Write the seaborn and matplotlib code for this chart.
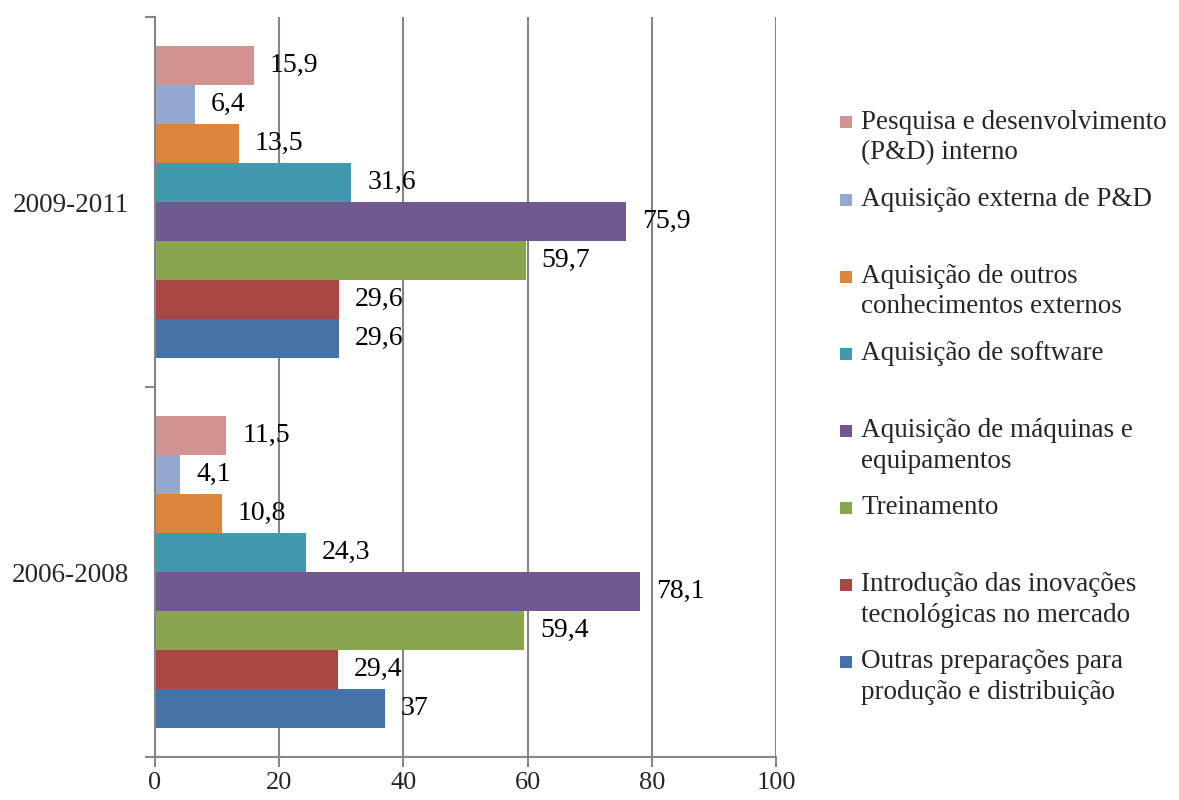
import matplotlib
matplotlib.use("Agg")
import matplotlib.pyplot as plt
from matplotlib.legend_handler import HandlerPatch
from matplotlib.patches import Rectangle
from matplotlib.ticker import FixedLocator
import numpy as np
import pandas as pd
import seaborn as sns

# Períodos (de cima para baixo no gráfico)
periodos = ["2009-2011", "2006-2008"]

# Atividades inovativas, na ordem das barras dentro de cada grupo (de cima para baixo)
atividades = [
    "Pesquisa e desenvolvimento\n(P&D) interno",
    "Aquisição externa de P&D",
    "Aquisição de outros\nconhecimentos externos",
    "Aquisição de software",
    "Aquisição de máquinas e\nequipamentos",
    "Treinamento",
    "Introdução das inovações\ntecnológicas no mercado",
    "Outras preparações para\nprodução e distribuição",
]

# Percentuais por atividade
valores_2009_2011 = [15.9, 6.4, 13.5, 31.6, 75.9, 59.7, 29.6, 29.6]
valores_2006_2008 = [11.5, 4.1, 10.8, 24.3, 78.1, 59.4, 29.4, 37.0]

cores = ["#D19392", "#93A9CF", "#DB843D", "#4198AF",
         "#71588F", "#89A54E", "#AA4643", "#4572A7"]

xticks = [0, 20, 40, 60, 80, 100]

df = pd.DataFrame({
    "periodo": np.repeat(periodos, len(atividades)),
    "atividade": atividades * len(periodos),
    "valor": valores_2009_2011 + valores_2006_2008,
})

sns.set_theme(style="white")
plt.rcParams["font.family"] = ["Liberation Serif", "DejaVu Serif"]

cinza = "#868686"
fig = plt.figure(figsize=(11.79, 8), dpi=100)
ax = fig.add_axes([155 / 1179, 43 / 800, 621 / 1179, 740 / 800])

sns.barplot(data=df, y="periodo", x="valor", hue="atividade",
            order=periodos, hue_order=atividades, palette=cores,
            orient="h", width=0.843, saturation=1, linewidth=0,
            ax=ax, legend=True)

# Rótulos de valor com vírgula decimal
for cont in ax.containers:
    rot = [f"{v:g}".replace(".", ",") for v in cont.datavalues]
    ax.bar_label(cont, labels=rot, padding=11.5, fontsize=20,
                 color="black")

ax.set_xlim(0, 100)
ax.set_ylim(1.5, -0.5)
ax.set_xticks(xticks)
ax.set_xticklabels([str(t) for t in xticks], fontsize=19)
ax.set_xlabel("")
ax.set_ylabel("")
ax.set_yticks([0, 1])
ax.set_yticklabels(periodos, fontsize=19.5)
ax.yaxis.set_minor_locator(FixedLocator([-0.5, 0.5, 1.5]))
ax.tick_params(axis="y", which="major", length=0, pad=19)
ax.tick_params(axis="y", which="minor", length=7, width=1.5, color=cinza,
               direction="out", left=True)
ax.tick_params(axis="x", which="major", length=7, width=1.5, color=cinza,
               direction="out", bottom=True, pad=4)

ax.xaxis.grid(True, color=cinza, linewidth=1.5)
ax.yaxis.grid(False)
ax.set_axisbelow(True)
for lado in ["top", "right"]:
    ax.spines[lado].set_visible(False)
for lado in ["left", "bottom"]:
    ax.spines[lado].set_color(cinza)
    ax.spines[lado].set_linewidth(1.5)


class QuadradoPrimeiraLinha(HandlerPatch):
    """Quadrado da legenda alinhado à primeira linha do rótulo."""

    def __init__(self, deslocamento, **kw):
        super().__init__(**kw)
        self.deslocamento = deslocamento

    def create_artists(self, legend, orig_handle, xdescent, ydescent,
                       width, height, fontsize, trans):
        lado = 8.6
        p = Rectangle((-xdescent + width - lado,
                       -ydescent + (height - lado) / 2 + self.deslocamento),
                      lado, lado, facecolor=orig_handle.get_facecolor(),
                      edgecolor="none", transform=trans)
        return [p]


handles, labels = ax.get_legend_handles_labels()
ax.get_legend().remove()
# todos os rótulos com duas linhas para manter o mesmo passo vertical
labels2 = [l if "\n" in l else l + "\n " for l in labels]
fs_leg = 19.5
handler = QuadradoPrimeiraLinha(deslocamento=10.8)
leg = fig.legend(handles, labels2, loc="upper left",
                 bbox_to_anchor=(826 / 1179, 1 - 96 / 800),
                 frameon=False, fontsize=fs_leg, borderpad=0,
                 handlelength=0.45, handletextpad=0.35, labelspacing=0.79,
                 handler_map={h: handler for h in handles})
for t in leg.get_texts():
    t.set_linespacing(1.3)

fig.savefig("out.png", dpi=100)
